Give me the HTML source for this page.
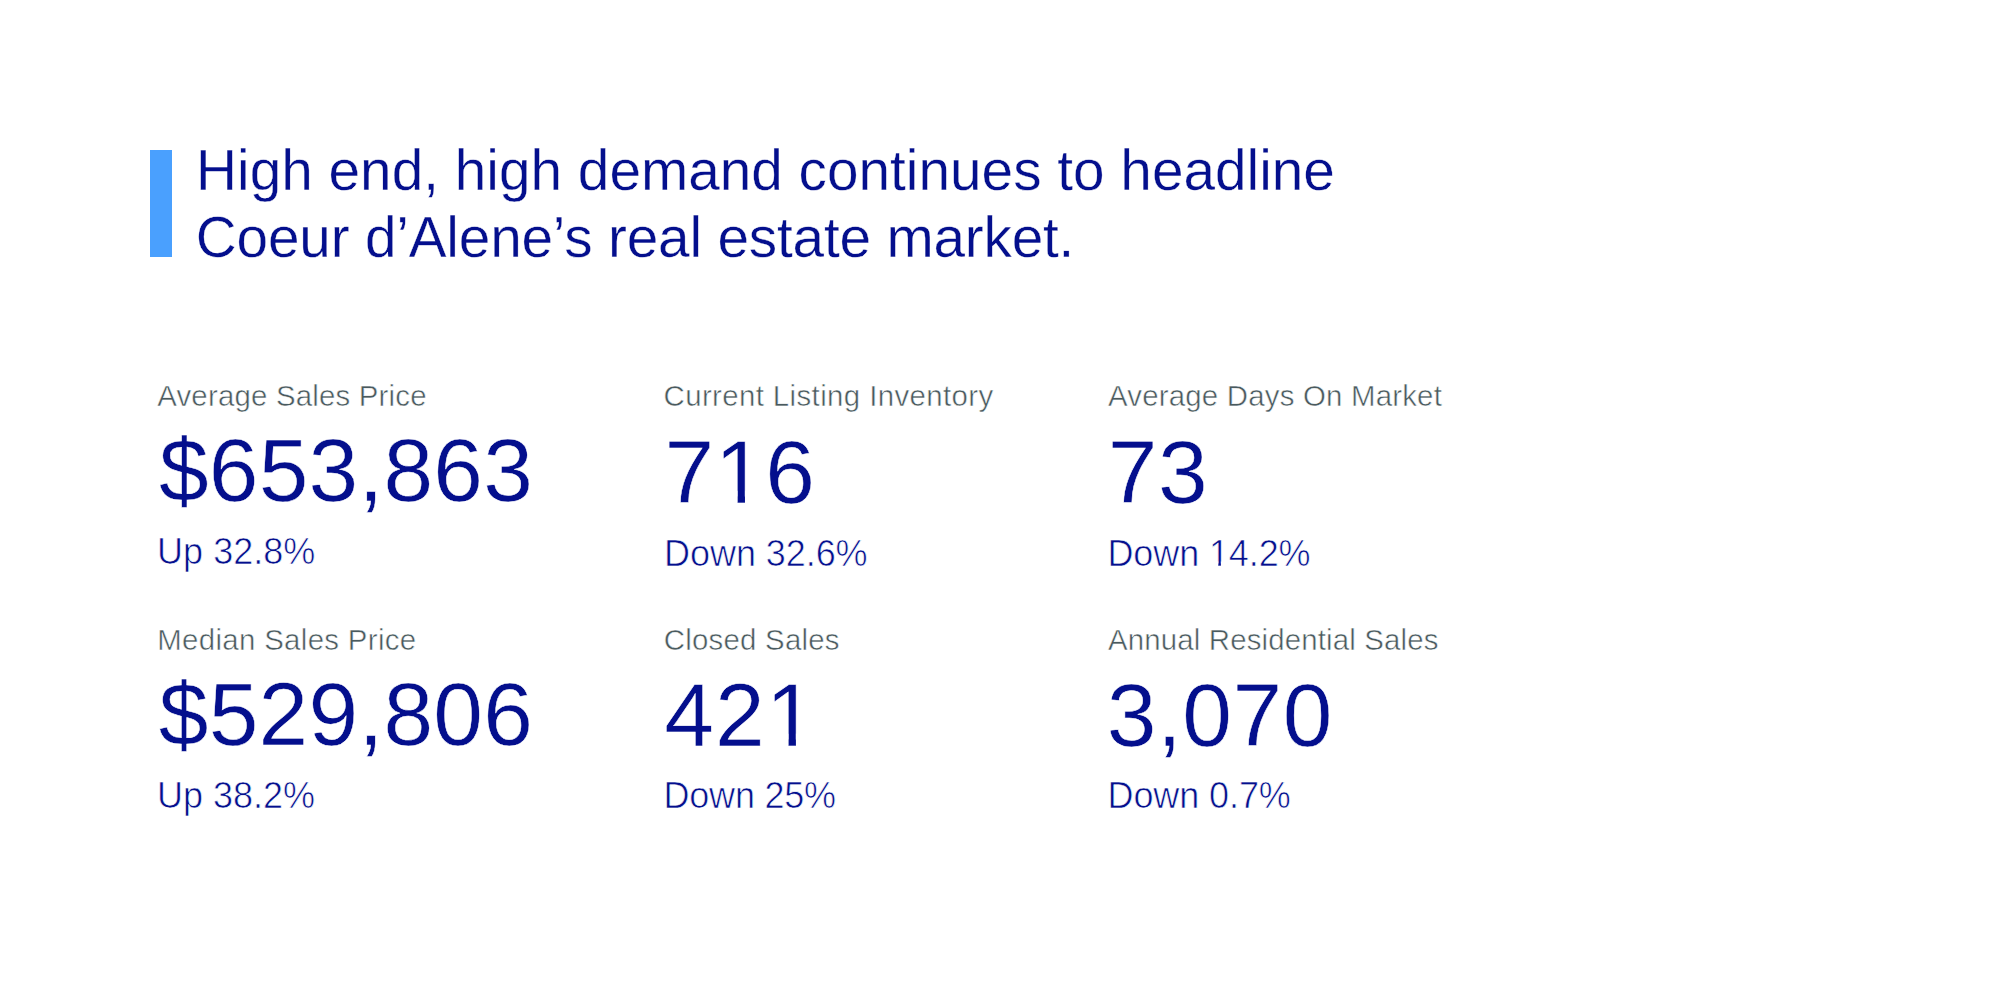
<!DOCTYPE html>
<html lang="en">
<head>
<meta charset="utf-8">
<title>Coeur d'Alene Market Stats</title>
<style>
html,body{margin:0;padding:0;background:#fff;}
body{width:2000px;height:1000px;position:relative;overflow:hidden;font-family:"Liberation Sans",Arial,Helvetica,sans-serif;}
.t{position:absolute;white-space:nowrap;line-height:1;margin:0;padding:0;}
#bar{position:absolute;left:150px;top:150px;width:22px;height:107px;background:#4aa0fe;}
/* a hairline white outline slims the regular weight toward the lighter cut of the original */
.h{color:#040f8d;font-size:56.7px;-webkit-text-stroke:0.35px #fff;}
.lab{color:#4a5a5e;font-size:29.4px;-webkit-text-stroke:0.5px #fff;}
.num{color:#040f8d;font-size:89.3px;-webkit-text-stroke:0.5px #fff;}
.sub{color:#040f8d;font-size:36.0px;-webkit-text-stroke:0.65px #fff;}
/* the inline clip-path polygons on 716, 421 and 14.2% notch out the foot serif of the digit 1 so it reads as a plain stem */
</style>
</head>
<body>
<div id="bar"></div>
<div class="t h" id="h1" style="left:196.11px;top:143px;letter-spacing:0.025px;">High end, high demand continues to headline</div>
<div class="t h" id="h2" style="left:195.85px;top:210px;letter-spacing:-0.172px;">Coeur d’Alene’s real estate market.</div>
<div class="t lab" id="l1" style="left:157.18px;top:381px;letter-spacing:0.202px;">Average Sales Price</div>
<div class="t num" id="n1" style="left:158.92px;top:426px;letter-spacing:0.219px;">$653,863</div>
<div class="t sub" id="s1" style="left:157.10px;top:534px;letter-spacing:0.026px;">Up 32.8%</div>
<div class="t lab" id="l2" style="left:663.52px;top:381px;letter-spacing:0.397px;">Current Listing Inventory</div>
<div class="t num" id="n2" style="left:664.43px;top:428px;letter-spacing:0.780px;clip-path:polygon(-20.00px -20.00px,171.33px -20.00px,171.33px 125.02px,97.77px 125.02px,97.77px 62.51px,80.55px 62.51px,80.55px 125.02px,73.24px 125.02px,73.24px 62.51px,54.90px 62.51px,54.90px 125.02px,-20.00px 125.02px);">716</div>
<div class="t sub" id="s2" style="left:664.10px;top:536px;letter-spacing:-0.065px;">Down 32.6%</div>
<div class="t lab" id="l3" style="left:1107.94px;top:381px;letter-spacing:0.213px;">Average Days On Market</div>
<div class="t num" id="n3" style="left:1107.78px;top:428px;letter-spacing:0.686px;">73</div>
<div class="t sub" id="s3" style="left:1107.49px;top:536px;letter-spacing:-0.113px;clip-path:polygon(-20.00px -20.00px,223.00px -20.00px,223.00px 50.40px,120.55px 50.40px,120.55px 25.20px,113.38px 25.20px,113.38px 50.40px,110.88px 50.40px,110.88px 25.20px,103.27px 25.20px,103.27px 50.40px,-20.00px 50.40px);">Down 14.2%</div>
<div class="t lab" id="l4" style="left:157.27px;top:625px;letter-spacing:0.335px;">Median Sales Price</div>
<div class="t num" id="n4" style="left:158.73px;top:670px;letter-spacing:0.254px;">$529,806</div>
<div class="t sub" id="s4" style="left:156.93px;top:778px;letter-spacing:0.003px;">Up 38.2%</div>
<div class="t lab" id="l5" style="left:663.67px;top:625px;letter-spacing:0.249px;">Closed Sales</div>
<div class="t num" id="n5" style="left:664.36px;top:671px;letter-spacing:1.062px;clip-path:polygon(-20.00px -20.00px,172.19px -20.00px,172.19px 125.02px,148.77px 125.02px,148.77px 62.51px,131.55px 62.51px,131.55px 125.02px,124.24px 125.02px,124.24px 62.51px,105.90px 62.51px,105.90px 125.02px,-20.00px 125.02px);">421</div>
<div class="t sub" id="s5" style="left:663.53px;top:778px;letter-spacing:-0.218px;">Down 25%</div>
<div class="t lab" id="l6" style="left:1107.94px;top:625px;letter-spacing:0.166px;">Annual Residential Sales</div>
<div class="t num" id="n6" style="left:1106.76px;top:671px;letter-spacing:0.566px;">3,070</div>
<div class="t sub" id="s6" style="left:1107.49px;top:778px;letter-spacing:-0.092px;">Down 0.7%</div>
</body>
</html>
